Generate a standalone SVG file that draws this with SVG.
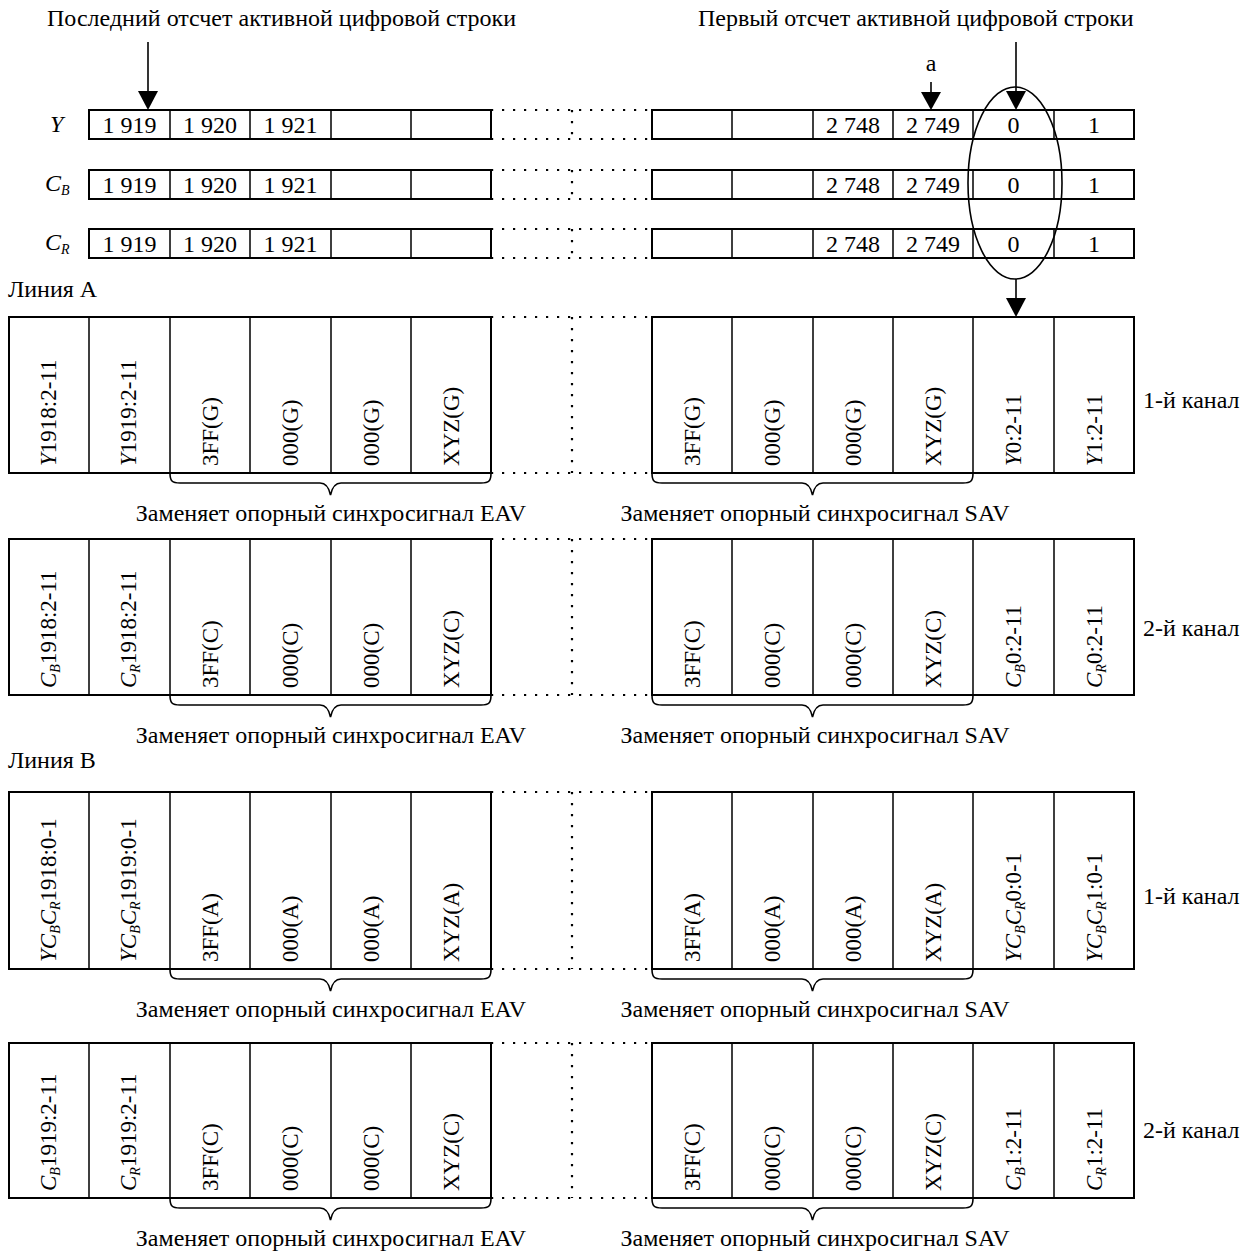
<svg xmlns="http://www.w3.org/2000/svg" width="1246" height="1259" viewBox="0 0 1246 1259">
<style>
.t{font-family:"Liberation Serif","Times New Roman",serif;font-size:24px;fill:#000}
.v{font-size:23px}
.m{text-anchor:middle}
.i{font-style:italic}
.s{font-size:14px;font-style:italic}
.box{fill:none;stroke:#000;stroke-width:2}
.div{fill:none;stroke:#000;stroke-width:1.5}
.dot{fill:none;stroke:#000;stroke-width:2.2;stroke-dasharray:2.2 8.8}
.br{fill:none;stroke:#000;stroke-width:1.6}
.ln{fill:none;stroke:#000;stroke-width:1.6}
.ah{fill:#000;stroke:none}
</style>
<defs>
<path id="brace" d="M0,0 C0,8 2,10 10,10 L150,10 Q158,10 160.5,22 Q163,10 171,10 L311,10 C319,10 321,8 321,0"/>
</defs>
<rect width="1246" height="1259" fill="#fff"/>

<g id="labels-top">
<text class="t" x="47" y="26">Последний отсчет активной цифровой строки</text>
<text class="t" x="698" y="26">Первый отсчет активной цифровой строки</text>
<text class="t m" x="931" y="71">a</text>
</g>

<g id="row-y">
<text class="t i" x="50" y="132">Y</text>
<rect class="box" x="89" y="110" width="402" height="29"/>
<rect class="box" x="652" y="110" width="482" height="29"/>
<path class="div" d="M170,110V139M250,110V139M331,110V139M411,110V139M732,110V139M813,110V139M893,110V139M973,110V139M1054,110V139"/>
<path class="dot" d="M491,110H652M491,139H652M572,110V139"/>
<text class="t m" x="129.5" y="133">1 919</text><text class="t m" x="210" y="133">1 920</text><text class="t m" x="290.5" y="133">1 921</text>
<text class="t m" x="853" y="133">2 748</text><text class="t m" x="933" y="133">2 749</text><text class="t m" x="1013.5" y="133">0</text><text class="t m" x="1094" y="133">1</text>
</g>

<g id="row-cb">
<text class="t" x="45" y="191"><tspan class="i">C</tspan><tspan class="s" dy="4">B</tspan></text>
<rect class="box" x="89" y="170" width="402" height="29"/>
<rect class="box" x="652" y="170" width="482" height="29"/>
<path class="div" d="M170,170V199M250,170V199M331,170V199M411,170V199M732,170V199M813,170V199M893,170V199M973,170V199M1054,170V199"/>
<path class="dot" d="M491,170H652M491,199H652M572,170V199"/>
<text class="t m" x="129.5" y="193">1 919</text><text class="t m" x="210" y="193">1 920</text><text class="t m" x="290.5" y="193">1 921</text>
<text class="t m" x="853" y="193">2 748</text><text class="t m" x="933" y="193">2 749</text><text class="t m" x="1013.5" y="193">0</text><text class="t m" x="1094" y="193">1</text>
</g>

<g id="row-cr">
<text class="t" x="45" y="250"><tspan class="i">C</tspan><tspan class="s" dy="4">R</tspan></text>
<rect class="box" x="89" y="229" width="402" height="29"/>
<rect class="box" x="652" y="229" width="482" height="29"/>
<path class="div" d="M170,229V258M250,229V258M331,229V258M411,229V258M732,229V258M813,229V258M893,229V258M973,229V258M1054,229V258"/>
<path class="dot" d="M491,229H652M491,258H652M572,229V258"/>
<text class="t m" x="129.5" y="252">1 919</text><text class="t m" x="210" y="252">1 920</text><text class="t m" x="290.5" y="252">1 921</text>
<text class="t m" x="853" y="252">2 748</text><text class="t m" x="933" y="252">2 749</text><text class="t m" x="1013.5" y="252">0</text><text class="t m" x="1094" y="252">1</text>
</g>

<g id="ellipse-first">
<ellipse class="ln" cx="1015" cy="183" rx="47" ry="96"/>
</g>

<g id="connectors">
<path class="ln" d="M148,42V93"/><polygon class="ah" points="138,91 158,91 148,110"/>
<path class="ln" d="M1016,42V93"/><polygon class="ah" points="1006,91 1026,91 1016,110"/>
<path class="ln" d="M931,82V94"/><polygon class="ah" points="921,92 941,92 931,110"/>
<path class="ln" d="M1016,279V300"/><polygon class="ah" points="1006,298 1026,298 1016,317"/>
</g>

<text class="t" x="8" y="297">Линия А</text>

<g id="line-a-ch1">
<rect class="box" x="9" y="317" width="482" height="156"/>
<rect class="box" x="652" y="317" width="482" height="156"/>
<path class="div" d="M89,317V473M170,317V473M250,317V473M331,317V473M411,317V473M732,317V473M813,317V473M893,317V473M973,317V473M1054,317V473"/>
<path class="dot" d="M491,317H652M491,473H652M572,317V473"/>
<text class="t v" transform="translate(56,466) rotate(-90)"><tspan class="i">Y</tspan>1918:2-11</text>
<text class="t v" transform="translate(136,466) rotate(-90)"><tspan class="i">Y</tspan>1919:2-11</text>
<text class="t v" transform="translate(218,466) rotate(-90)">3FF(G)</text>
<text class="t v" transform="translate(298,466) rotate(-90)">000(G)</text>
<text class="t v" transform="translate(379,466) rotate(-90)">000(G)</text>
<text class="t v" transform="translate(459,466) rotate(-90)">XYZ(G)</text>
<text class="t v" transform="translate(700,466) rotate(-90)">3FF(G)</text>
<text class="t v" transform="translate(780,466) rotate(-90)">000(G)</text>
<text class="t v" transform="translate(861,466) rotate(-90)">000(G)</text>
<text class="t v" transform="translate(941,466) rotate(-90)">XYZ(G)</text>
<text class="t v" transform="translate(1021,466) rotate(-90)"><tspan class="i">Y</tspan>0:2-11</text>
<text class="t v" transform="translate(1102,466) rotate(-90)"><tspan class="i">Y</tspan>1:2-11</text>
<use href="#brace" class="br" transform="translate(170,473)"/>
<use href="#brace" class="br" transform="translate(652,473)"/>
<text class="t m" x="331" y="521">Заменяет опорный синхросигнал EAV</text>
<text class="t m" x="815" y="521">Заменяет опорный синхросигнал SAV</text>
<text class="t" x="1143" y="408">1-й канал</text>
</g>

<g id="line-a-ch2">
<rect class="box" x="9" y="539" width="482" height="156"/>
<rect class="box" x="652" y="539" width="482" height="156"/>
<path class="div" d="M89,539V695M170,539V695M250,539V695M331,539V695M411,539V695M732,539V695M813,539V695M893,539V695M973,539V695M1054,539V695"/>
<path class="dot" d="M491,539H652M491,695H652M572,539V695"/>
<text class="t v" transform="translate(56,688) rotate(-90)"><tspan class="i">C</tspan><tspan class="s" dy="4">B</tspan><tspan dy="-4">1918:2-11</tspan></text>
<text class="t v" transform="translate(136,688) rotate(-90)"><tspan class="i">C</tspan><tspan class="s" dy="4">R</tspan><tspan dy="-4">1918:2-11</tspan></text>
<text class="t v" transform="translate(218,688) rotate(-90)">3FF(C)</text>
<text class="t v" transform="translate(298,688) rotate(-90)">000(C)</text>
<text class="t v" transform="translate(379,688) rotate(-90)">000(C)</text>
<text class="t v" transform="translate(459,688) rotate(-90)">XYZ(C)</text>
<text class="t v" transform="translate(700,688) rotate(-90)">3FF(C)</text>
<text class="t v" transform="translate(780,688) rotate(-90)">000(C)</text>
<text class="t v" transform="translate(861,688) rotate(-90)">000(C)</text>
<text class="t v" transform="translate(941,688) rotate(-90)">XYZ(C)</text>
<text class="t v" transform="translate(1021,688) rotate(-90)"><tspan class="i">C</tspan><tspan class="s" dy="4">B</tspan><tspan dy="-4">0:2-11</tspan></text>
<text class="t v" transform="translate(1102,688) rotate(-90)"><tspan class="i">C</tspan><tspan class="s" dy="4">R</tspan><tspan dy="-4">0:2-11</tspan></text>
<use href="#brace" class="br" transform="translate(170,695)"/>
<use href="#brace" class="br" transform="translate(652,695)"/>
<text class="t m" x="331" y="743">Заменяет опорный синхросигнал EAV</text>
<text class="t m" x="815" y="743">Заменяет опорный синхросигнал SAV</text>
<text class="t" x="1143" y="636">2-й канал</text>
</g>

<text class="t" x="8" y="768">Линия В</text>

<g id="line-b-ch1">
<rect class="box" x="9" y="792" width="482" height="177"/>
<rect class="box" x="652" y="792" width="482" height="177"/>
<path class="div" d="M89,792V969M170,792V969M250,792V969M331,792V969M411,792V969M732,792V969M813,792V969M893,792V969M973,792V969M1054,792V969"/>
<path class="dot" d="M491,792H652M491,969H652M572,792V969"/>
<text class="t v" transform="translate(56,962) rotate(-90)"><tspan class="i">YC</tspan><tspan class="s" dy="4">B</tspan><tspan class="i" dy="-4">C</tspan><tspan class="s" dy="4">R</tspan><tspan dy="-4">1918:0-1</tspan></text>
<text class="t v" transform="translate(136,962) rotate(-90)"><tspan class="i">YC</tspan><tspan class="s" dy="4">B</tspan><tspan class="i" dy="-4">C</tspan><tspan class="s" dy="4">R</tspan><tspan dy="-4">1919:0-1</tspan></text>
<text class="t v" transform="translate(218,962) rotate(-90)">3FF(A)</text>
<text class="t v" transform="translate(298,962) rotate(-90)">000(A)</text>
<text class="t v" transform="translate(379,962) rotate(-90)">000(A)</text>
<text class="t v" transform="translate(459,962) rotate(-90)">XYZ(A)</text>
<text class="t v" transform="translate(700,962) rotate(-90)">3FF(A)</text>
<text class="t v" transform="translate(780,962) rotate(-90)">000(A)</text>
<text class="t v" transform="translate(861,962) rotate(-90)">000(A)</text>
<text class="t v" transform="translate(941,962) rotate(-90)">XYZ(A)</text>
<text class="t v" transform="translate(1021,962) rotate(-90)"><tspan class="i">YC</tspan><tspan class="s" dy="4">B</tspan><tspan class="i" dy="-4">C</tspan><tspan class="s" dy="4">R</tspan><tspan dy="-4">0:0-1</tspan></text>
<text class="t v" transform="translate(1102,962) rotate(-90)"><tspan class="i">YC</tspan><tspan class="s" dy="4">B</tspan><tspan class="i" dy="-4">C</tspan><tspan class="s" dy="4">R</tspan><tspan dy="-4">1:0-1</tspan></text>
<use href="#brace" class="br" transform="translate(170,969)"/>
<use href="#brace" class="br" transform="translate(652,969)"/>
<text class="t m" x="331" y="1017">Заменяет опорный синхросигнал EAV</text>
<text class="t m" x="815" y="1017">Заменяет опорный синхросигнал SAV</text>
<text class="t" x="1143" y="904">1-й канал</text>
</g>

<g id="line-b-ch2">
<rect class="box" x="9" y="1043" width="482" height="155"/>
<rect class="box" x="652" y="1043" width="482" height="155"/>
<path class="div" d="M89,1043V1198M170,1043V1198M250,1043V1198M331,1043V1198M411,1043V1198M732,1043V1198M813,1043V1198M893,1043V1198M973,1043V1198M1054,1043V1198"/>
<path class="dot" d="M491,1043H652M491,1198H652M572,1043V1198"/>
<text class="t v" transform="translate(56,1191) rotate(-90)"><tspan class="i">C</tspan><tspan class="s" dy="4">B</tspan><tspan dy="-4">1919:2-11</tspan></text>
<text class="t v" transform="translate(136,1191) rotate(-90)"><tspan class="i">C</tspan><tspan class="s" dy="4">R</tspan><tspan dy="-4">1919:2-11</tspan></text>
<text class="t v" transform="translate(218,1191) rotate(-90)">3FF(C)</text>
<text class="t v" transform="translate(298,1191) rotate(-90)">000(C)</text>
<text class="t v" transform="translate(379,1191) rotate(-90)">000(C)</text>
<text class="t v" transform="translate(459,1191) rotate(-90)">XYZ(C)</text>
<text class="t v" transform="translate(700,1191) rotate(-90)">3FF(C)</text>
<text class="t v" transform="translate(780,1191) rotate(-90)">000(C)</text>
<text class="t v" transform="translate(861,1191) rotate(-90)">000(C)</text>
<text class="t v" transform="translate(941,1191) rotate(-90)">XYZ(C)</text>
<text class="t v" transform="translate(1021,1191) rotate(-90)"><tspan class="i">C</tspan><tspan class="s" dy="4">B</tspan><tspan dy="-4">1:2-11</tspan></text>
<text class="t v" transform="translate(1102,1191) rotate(-90)"><tspan class="i">C</tspan><tspan class="s" dy="4">R</tspan><tspan dy="-4">1:2-11</tspan></text>
<use href="#brace" class="br" transform="translate(170,1198)"/>
<use href="#brace" class="br" transform="translate(652,1198)"/>
<text class="t m" x="331" y="1246">Заменяет опорный синхросигнал EAV</text>
<text class="t m" x="815" y="1246">Заменяет опорный синхросигнал SAV</text>
<text class="t" x="1143" y="1138">2-й канал</text>
</g>
</svg>
